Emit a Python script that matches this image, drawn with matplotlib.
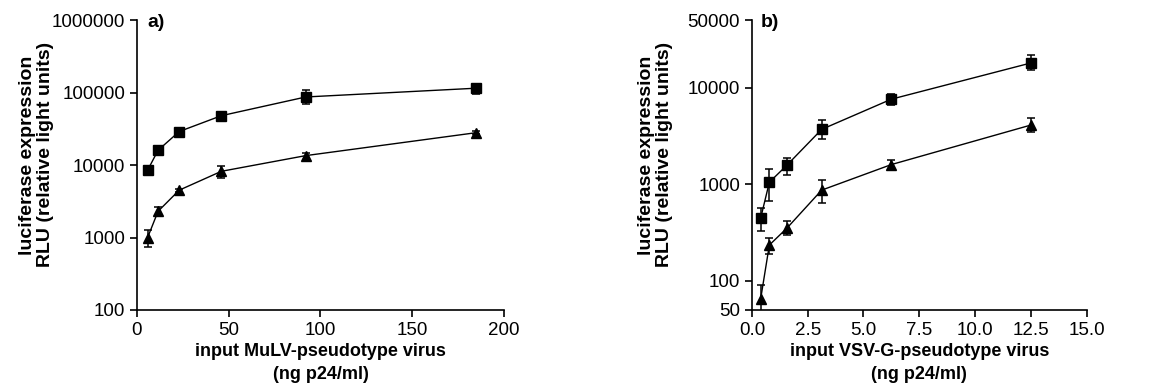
import numpy as np
import matplotlib.pyplot as plt
from matplotlib.ticker import FixedLocator, FixedFormatter, NullLocator

plt.rcParams['font.family'] = ['Liberation Sans', 'DejaVu Sans']

# panel a: MuLV-pseudotype
mulv_x = [5.8, 11.5, 23, 46, 92, 185]
mulv_sq = [8500, 16000, 29000, 48000, 87000, 115000]
mulv_sq_lo = [8000, 15000, 27500, 45500, 70000, 97000]
mulv_sq_hi = [9000, 17000, 30500, 51000, 110000, 130000]
mulv_tri = [1000, 2300, 4500, 8200, 13500, 28000]
mulv_tri_lo = [730, 2050, 4300, 6600, 11800, 26500]
mulv_tri_hi = [1250, 2600, 4700, 9700, 14600, 29500]

# panel b: VSV-G-pseudotype
vsv_x = [0.39, 0.78, 1.56, 3.125, 6.25, 12.5]
vsv_sq = [445, 1050, 1570, 3700, 7600, 18000]
vsv_sq_lo = [326, 670, 1240, 2950, 6600, 15200]
vsv_sq_hi = [565, 1430, 1860, 4600, 8600, 21700]
vsv_tri = [65, 235, 350, 870, 1600, 4100]
vsv_tri_lo = [45, 188, 300, 640, 1400, 3450]
vsv_tri_hi = [90, 280, 415, 1100, 1800, 4850]

fig = plt.figure(figsize=(11.54, 3.87), dpi=100)
ax1 = fig.add_axes([0.1187, 0.199, 0.318, 0.749])
ax2 = fig.add_axes([0.6516, 0.199, 0.290, 0.749])


def draw(ax, x, y, lo, hi, marker, ms):
    y = np.array(y)
    err = [y - np.array(lo), np.array(hi) - y]
    ax.errorbar(x, y, yerr=err, color='black', marker=marker, ms=ms, lw=1.0,
                elinewidth=1.1, capsize=3, capthick=1.1)


def style(ax, labx):
    ax.set_yscale('log')
    for s in ['top', 'right']:
        ax.spines[s].set_visible(False)
    for s in ['left', 'bottom']:
        ax.spines[s].set_linewidth(1.2)
    ax.tick_params(direction='out', length=5, width=1.2, labelsize=13.5)
    ax.yaxis.set_minor_locator(NullLocator())
    ax.set_ylabel('luciferase expression\nRLU (relative light units)',
                  fontsize=14, fontweight='bold', linespacing=1.05)
    ax.yaxis.set_label_coords(labx, 0.535)


draw(ax1, mulv_x, mulv_sq, mulv_sq_lo, mulv_sq_hi, 's', 6.5)
draw(ax1, mulv_x, mulv_tri, mulv_tri_lo, mulv_tri_hi, '^', 6.5)
style(ax1, -0.226)
ax1.set_xlim(0, 200)
ax1.set_ylim(100, 1000000)
ax1.set_xticks([0, 50, 100, 150, 200])
ax1.yaxis.set_major_locator(FixedLocator([100, 1000, 10000, 100000, 1000000]))
ax1.yaxis.set_major_formatter(FixedFormatter(['100', '1000', '10000', '100000', '1000000']))
ax1.set_xlabel('input MuLV-pseudotype virus\n(ng p24/ml)', fontsize=13,
               fontweight='bold', labelpad=3, linespacing=1.45)
ax1.text(0.027, 1.02, 'a)', transform=ax1.transAxes, fontsize=14,
         fontweight='bold', va='top')

draw(ax2, vsv_x, vsv_sq, vsv_sq_lo, vsv_sq_hi, 's', 6.5)
draw(ax2, vsv_x, vsv_tri, vsv_tri_lo, vsv_tri_hi, '^', 6.5)
style(ax2, -0.236)
ax2.set_xlim(0, 15)
ax2.set_ylim(50, 50000)
ax2.set_xticks([0, 2.5, 5, 7.5, 10, 12.5, 15])
ax2.set_xticklabels(['0.0', '2.5', '5.0', '7.5', '10.0', '12.5', '15.0'])
ax2.yaxis.set_major_locator(FixedLocator([50, 100, 1000, 10000, 50000]))
ax2.yaxis.set_major_formatter(FixedFormatter(['50', '100', '1000', '10000', '50000']))
ax2.set_xlabel('input VSV-G-pseudotype virus\n(ng p24/ml)', fontsize=13,
               fontweight='bold', labelpad=3, linespacing=1.45)
ax2.text(0.027, 1.02, 'b)', transform=ax2.transAxes, fontsize=14,
         fontweight='bold', va='top')

fig.savefig('out.png', dpi=100)
